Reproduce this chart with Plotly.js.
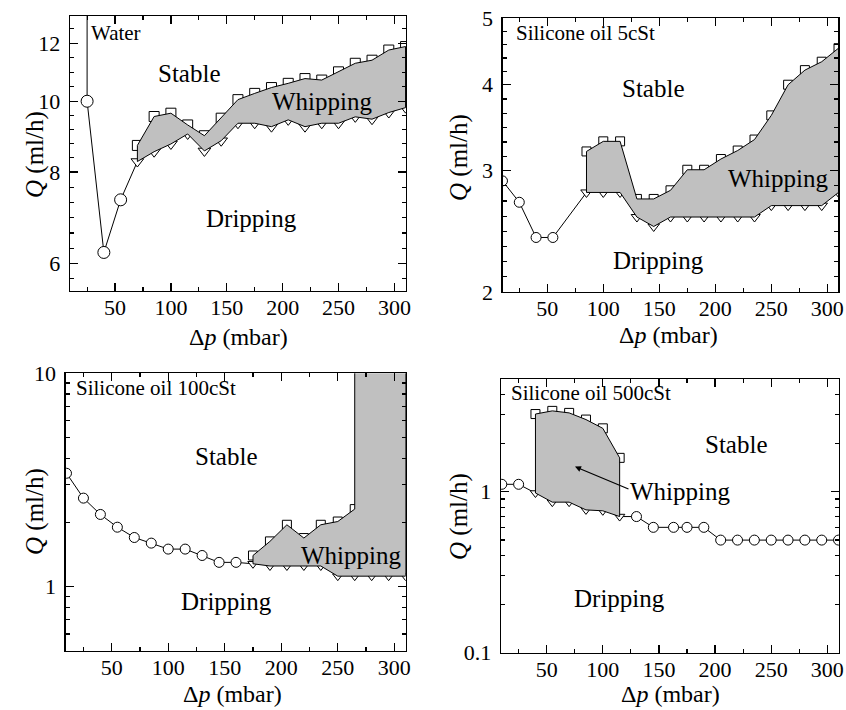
<!DOCTYPE html>
<html><head><meta charset="utf-8">
<script src="https://cdn.plot.ly/plotly-3.0.1.min.js"></script>
<style>html,body{margin:0;padding:0;background:#fff}#chart{width:846px;height:710px}</style>
</head><body><div id="chart"></div>
<script>
// ---------- Water ----------
const waterCircX = [25, 40, 55];
const waterCircQ = [10.0, 6.21, 7.33];
const waterEdgeX = [25, 25];
const waterEdgeQ = [10.0, 14.0];
const waterX = [70, 85, 100, 115, 130, 145, 160, 175, 190, 205, 220, 235, 250, 265, 280, 295, 310];
const waterSqQ = [8.70, 9.53, 9.63, 9.28, 8.97, 9.48, 10.05, 10.25, 10.44, 10.58, 10.74, 10.69, 10.97, 11.27, 11.38, 11.75, 11.88];
const waterTriQ = [8.27, 8.53, 8.74, 9.02, 8.55, 8.83, 9.33, 9.33, 9.23, 9.43, 9.23, 9.33, 9.33, 9.52, 9.45, 9.65, 9.80];

// ---------- Silicone oil 5cSt ----------
const oil5CircX = [10, 25, 40, 55];
const oil5CircQ = [2.90, 2.70, 2.40, 2.40];
const oil5X = [85, 100, 115, 130, 145, 160, 175, 190, 205, 220, 235, 250, 265, 280, 295, 310];
const oil5SqQ = [3.20, 3.31, 3.31, 2.73, 2.73, 2.81, 3.01, 3.01, 3.12, 3.21, 3.33, 3.61, 4.00, 4.20, 4.32, 4.52];
const oil5TriQ = [2.79, 2.79, 2.79, 2.57, 2.49, 2.57, 2.57, 2.57, 2.57, 2.57, 2.57, 2.67, 2.67, 2.67, 2.67, 2.79];

// ---------- Silicone oil 100cSt ----------
const oil100CircX = [10, 25, 40, 55, 70, 85, 100, 115, 130, 145, 160];
const oil100CircQ = [3.40, 2.60, 2.18, 1.90, 1.70, 1.60, 1.50, 1.50, 1.40, 1.30, 1.30];
const oil100SqX = [175, 190, 205, 220, 235, 250, 265];
const oil100SqQ = [1.40, 1.63, 1.95, 1.69, 1.95, 2.02, 2.31];
const oil100TopX = [265, 310];      // whipping region continues above Q = 10
const oil100TopQ = [12, 12];
const oil100TriX = [175, 190, 205, 220, 235, 250, 265, 280, 295, 310];
const oil100TriQ = [1.28, 1.25, 1.25, 1.25, 1.25, 1.12, 1.12, 1.12, 1.12, 1.12];

// ---------- Silicone oil 500cSt ----------
const oil500CircLowX = [10, 25];
const oil500CircLowQ = [1.11, 1.11];
const oil500CircHighX = [130, 145, 163, 175, 190, 205, 220, 235, 250, 265, 280, 295, 310];
const oil500CircHighQ = [0.70, 0.60, 0.60, 0.60, 0.60, 0.50, 0.50, 0.50, 0.50, 0.50, 0.50, 0.50, 0.50];
const oil500X = [40, 55, 70, 85, 100, 115];
const oil500SqQ = [3.03, 3.17, 3.08, 2.80, 2.47, 1.62];
const oil500TriQ = [0.98, 0.86, 0.86, 0.77, 0.76, 0.70];

// ---------- Ticks ----------
const xTickVals = [50, 100, 150, 200, 250, 300];
const xMinorVals = [25, 75, 125, 175, 225, 275];
const y1TickVals = [6, 8, 10, 12];
const y1Minor = [5.719, 6.295, 6.604, 6.928, 7.268, 7.625, 8.365, 8.746, 9.146, 9.563, 10.466, 10.954, 11.465, 12.56];
const y2TickVals = [2, 3, 4, 5];
const y2Minor = [2.104, 2.213, 2.328, 2.449, 2.577, 2.711, 2.852, 3.147, 3.302, 3.464, 3.634, 3.813, 4.183, 4.373, 4.573, 4.781];
const y3TickVals = [1, 10];
const y3Minor = [0.6, 0.7, 0.8, 0.9, 2, 3, 4, 5, 6, 7, 8, 9];
const y4TickVals = [0.1, 1];
const y4TickText = ['0.1', '1'];
const y4Minor = [0.2, 0.3, 0.4, 0.5, 0.6, 0.7, 0.8, 0.9, 2, 3, 4];

const xTitle = 'Δ<i>p</i> (mbar)';
const yTitle = '<i>Q</i> (ml/h)';

const FONT = 'Liberation Serif';
const GRAY = 'rgb(192,192,192)';
const W = 846, H = 710;

function polyX(up, low) { return up.concat(low.slice().reverse(), [up[0]]); }
function polyY(up, low) { return up.concat(low.slice().reverse(), [up[0]]); }

function plainLine(xs, ys, ax) {
  return { x: xs, y: ys, xaxis: 'x' + ax, yaxis: 'y' + ax, type: 'scatter', mode: 'lines',
    line: { color: 'black', width: 1 }, hoverinfo: 'skip', showlegend: false };
}
function markers(xs, ys, ax, sym, size) {
  return { x: xs, y: ys, xaxis: 'x' + ax, yaxis: 'y' + ax, type: 'scatter', mode: 'markers',
    marker: { symbol: sym, size: size, color: 'white', line: { color: 'black', width: 1 } },
    hoverinfo: 'skip', showlegend: false };
}
function region(xs, ys, ax) {
  return { x: xs, y: ys, xaxis: 'x' + ax, yaxis: 'y' + ax, type: 'scatter', mode: 'lines',
    fill: 'toself', fillcolor: GRAY, line: { color: 'black', width: 1 }, hoverinfo: 'skip', showlegend: false };
}

const traces = [];
// Panel 1
traces.push(plainLine(waterEdgeX, waterEdgeQ, 1));
traces.push(plainLine(waterCircX.concat([waterX[0]]), waterCircQ.concat([waterTriQ[0]]), 1));
traces.push(markers(waterX, waterSqQ, 1, 'square', 10));
traces.push(markers(waterX, waterTriQ, 1, 'triangle-down', 11));
traces.push(region(polyX(waterX, waterX), polyY(waterSqQ, waterTriQ), 1));
traces.push(markers(waterCircX, waterCircQ, 1, 'circle', 12));
// Panel 2
traces.push(plainLine(oil5CircX.concat([oil5X[0]]), oil5CircQ.concat([oil5TriQ[0]]), 2));
traces.push(markers(oil5X, oil5SqQ, 2, 'square', 9));
traces.push(markers(oil5X, oil5TriQ, 2, 'triangle-down', 10));
traces.push(region(polyX(oil5X, oil5X), polyY(oil5SqQ, oil5TriQ), 2));
traces.push(markers(oil5CircX, oil5CircQ, 2, 'circle', 10));
// Panel 3
traces.push(plainLine(oil100CircX.concat([oil100TriX[0]]), oil100CircQ.concat([oil100TriQ[0]]), 3));
traces.push(markers(oil100CircX, oil100CircQ, 3, 'circle', 10));
traces.push(markers(oil100SqX, oil100SqQ, 3, 'square', 9));
traces.push(markers(oil100TriX, oil100TriQ, 3, 'triangle-down', 9));
traces.push(region(polyX(oil100SqX.concat(oil100TopX), oil100TriX), polyY(oil100SqQ.concat(oil100TopQ), oil100TriQ), 3));
// Panel 4
const lineX4 = oil500CircLowX.concat([oil500X[0], null, oil500X[oil500X.length - 1]], oil500CircHighX);
const lineY4 = oil500CircLowQ.concat([oil500TriQ[0], null, oil500TriQ[oil500TriQ.length - 1]], oil500CircHighQ);
traces.push(plainLine(lineX4, lineY4, 4));
traces.push(markers(oil500CircLowX.concat(oil500CircHighX), oil500CircLowQ.concat(oil500CircHighQ), 4, 'circle', 10));
traces.push(markers(oil500X, oil500SqQ, 4, 'square', 9));
traces.push(markers(oil500X, oil500TriQ, 4, 'triangle-down', 9));
traces.push(region(polyX(oil500X, oil500X), polyY(oil500SqQ, oil500TriQ), 4));

// ---------- Layout ----------
function xAxis(px0, px1, range, anchor) {
  return {
    domain: [px0 / W, px1 / W], range: range, anchor: anchor,
    tickmode: 'array', tickvals: xTickVals, ticks: 'inside', ticklen: 8, tickwidth: 1.2, tickcolor: 'black',
    minor: { tickmode: 'array', tickvals: xMinorVals, ticks: 'inside', ticklen: 4, tickwidth: 1.2, tickcolor: 'black' },
    showline: true, linecolor: 'black', linewidth: 1.4, mirror: 'allticks',
    showgrid: false, zeroline: false, ticklabelstandoff: -4,
    tickfont: { family: FONT, size: 22, color: 'black' }
  };
}
function yAxis(py0, py1, range, tv, tt, minor, anchor) {
  return {
    domain: [1 - py1 / H, 1 - py0 / H], type: 'log', range: range, anchor: anchor,
    tickmode: 'array', tickvals: tv, ticktext: tt, ticks: 'inside', ticklen: 8, tickwidth: 1.2, tickcolor: 'black',
    minor: { tickmode: 'array', tickvals: minor, ticks: 'inside', ticklen: 4, tickwidth: 1.2, tickcolor: 'black' },
    showline: true, linecolor: 'black', linewidth: 1.4, mirror: 'allticks',
    showgrid: false, zeroline: false, ticklabelstandoff: 4,
    tickfont: { family: FONT, size: 22, color: 'black' }
  };
}

const L10 = Math.log10;
function label(text, x, q, ax, size, xanchor) {
  return { text: text, x: x, y: L10(q), xref: 'x' + ax, yref: 'y' + ax, showarrow: false,
    xanchor: xanchor || 'center', yanchor: 'middle', font: { family: FONT, size: size, color: 'black' } };
}
function axTitle(text, px, py, rot, size) {
  return { text: text, x: px / W, y: 1 - py / H, xref: 'paper', yref: 'paper', showarrow: false,
    xanchor: 'center', yanchor: 'middle', textangle: rot, font: { family: FONT, size: size, color: 'black' } };
}

const annotations = [
  label('Water', 27, 12.4, 1, 21, 'left'),
  label('Stable', 116.5, 10.9, 1, 25),
  label('Whipping', 235, 10.0, 1, 25),
  label('Dripping', 172, 6.92, 1, 25),

  label('Silicone oil 5cSt', 20, 4.75, 2, 21, 'left'),
  label('Stable', 144.7, 3.95, 2, 25),
  label('Whipping', 256, 2.92, 2, 25),
  label('Dripping', 149, 2.225, 2, 25),

  label('Silicone oil 100cSt', 17, 8.5, 3, 21, 'left'),
  label('Stable', 151.8, 4.06, 3, 25),
  label('Whipping', 262, 1.40, 3, 25),
  label('Dripping', 151.8, 0.853, 3, 25),

  label('Silicone oil 500cSt', 16, 4.09, 4, 21, 'left'),
  label('Stable', 219, 1.966, 4, 25),
  label('Whipping', 169, 1.0, 4, 25),
  label('Dripping', 115, 0.218, 4, 25),
  { text: '', x: 75.2, y: L10(1.43), xref: 'x4', yref: 'y4', showarrow: true,
    ax: 55, ay: 23, arrowhead: 2, arrowsize: 1, arrowwidth: 1.2, arrowcolor: 'black' },

  axTitle(xTitle, 238, 337, 0, 24),
  axTitle(xTitle, 668, 335, 0, 24),
  axTitle(xTitle, 232, 694, 0, 24),
  axTitle(xTitle, 670, 694, 0, 24),
  axTitle(yTitle, 35, 155, -90, 25),
  axTitle(yTitle, 459, 157, -90, 25),
  axTitle(yTitle, 35, 512, -90, 25),
  axTitle(yTitle, 459, 516, -90, 25)
];

const layout = {
  width: W, height: H, margin: { l: 0, r: 0, t: 0, b: 0 },
  paper_bgcolor: 'white', plot_bgcolor: 'white', showlegend: false,
  font: { family: FONT, color: 'black', size: 20 },
  xaxis: xAxis(70, 406, [9.7, 310.4], 'y'),
  yaxis: yAxis(16, 290.7, [L10(5.505), L10(13.08)], y1TickVals, y1TickVals.map(String), y1Minor, 'x'),
  xaxis2: xAxis(502.7, 838.3, [10.2, 309.8], 'y2'),
  yaxis2: yAxis(18, 292, [L10(2), L10(5)], y2TickVals, y2TickVals.map(String), y2Minor, 'x2'),
  xaxis3: xAxis(65.7, 405.7, [9.3, 310.1], 'y3'),
  yaxis3: yAxis(373.3, 650.9, [L10(0.5), 1], y3TickVals, y3TickVals.map(String), y3Minor, 'x3'),
  xaxis4: xAxis(501, 839, [9.3, 310.4], 'y4'),
  yaxis4: yAxis(379, 652.7, [-1, L10(5)], y4TickVals, y4TickText, y4Minor, 'x4'),
  annotations: annotations
};

Plotly.newPlot('chart', traces, layout, { displayModeBar: false, staticPlot: true });
</script>
</body></html>
